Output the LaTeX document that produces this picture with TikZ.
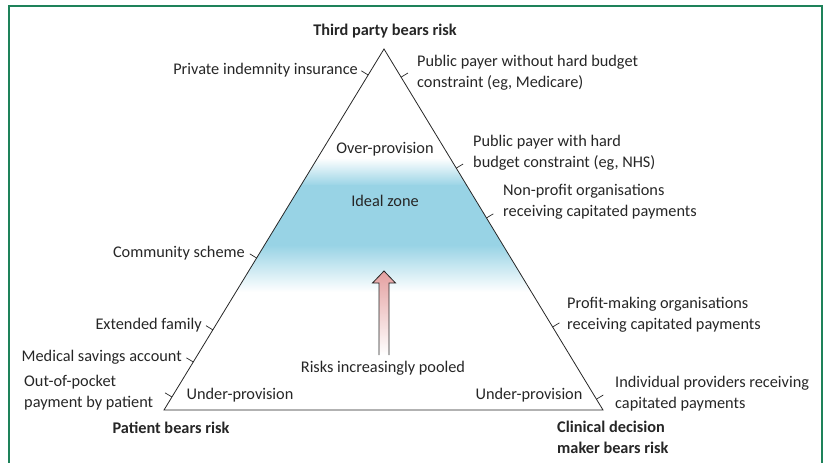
\documentclass[tikz,border=0pt]{standalone}
\usepackage{fontspec}
\setmainfont{Carlito}
\usepackage{tikz}
\usetikzlibrary{calc}

\definecolor{framegreen}{RGB}{30,130,90}
\definecolor{idealblue}{RGB}{152,211,229}
\definecolor{arrowpink}{RGB}{228,160,160}

\begin{document}
\begin{tikzpicture}[x=1pt, y=-1pt,
    every node/.style={inner sep=0pt, text=black!85, font=\fontsize{16.3}{21}\selectfont},
    boldlab/.style={font=\fontsize{16.3}{21}\selectfont\bfseries},
    leftlab/.style={anchor=east},
    rightlab/.style={anchor=west, align=left},
    tick/.style={black!85, line width=0.7pt}]
\useasboundingbox (0,0) rectangle (827,463);
% Frame
\draw[framegreen, line width=1.5pt] (9,463) -- (9,6) -- (822,6) -- (822,463);

% Corners of the triangle
\coordinate (apex) at (384,49);
\coordinate (patient) at (164,410);
\coordinate (clinician) at (603,410);

% Ideal zone band
\begin{scope}
\clip (apex) -- (patient) -- (clinician) -- cycle;
\shade[top color=white, bottom color=idealblue] (150,158) rectangle (620,186);
\fill[idealblue] (150,185) rectangle (620,246);
\shade[top color=idealblue, bottom color=white] (150,245) rectangle (620,292);
\end{scope}

% Triangle
\draw[black!85, line width=0.8pt] (apex) -- (patient) -- (clinician) -- cycle;

% Ticks on the sides
\foreach \f in {0.072,0.579,0.778,0.867,0.964}
    \draw[tick] ($(apex)!\f!(patient)$) -- ($(apex)!\f!(patient)!8pt!-90:(patient)$);
\foreach \f in {0.078,0.330,0.468,0.770,0.970}
    \draw[tick] ($(apex)!\f!(clinician)$) -- ($(apex)!\f!(clinician)!8pt!90:(clinician)$);

% Corner labels
\node[boldlab] (thirdlab) at (385,31) {Third party bears risk};
\node[boldlab] (patientlab) at (171,428) {Patient bears risk};
\node[boldlab, anchor=west, align=left] (clinlab) at (557,437.5) {Clinical decision\\maker bears risk};

% Left side labels
\node[leftlab] (privins) at (358,70) {Private indemnity insurance};
\node[leftlab] (community) at (245,253) {Community scheme};
\node[leftlab] (extfamily) at (202,325) {Extended family};
\node[leftlab] (medsav) at (182,357) {Medical savings account};
\node[rightlab] (outpocket) at (24,393) {Out-of-pocket\\payment by patient};

% Right side labels
\node[rightlab] (pubnohard) at (417,72.5) {Public payer without hard budget\\constraint (eg, Medicare)};
\node[rightlab] (pubhard) at (473,152.5) {Public payer with hard\\budget constraint (eg, NHS)};
\node[rightlab] (nonprofit) at (503,202) {Non-profit organisations\\receiving capitated payments};
\node[rightlab] (profit) at (567,315) {Profit-making organisations\\receiving capitated payments};
\node[rightlab] (individual) at (615,394) {Individual providers receiving\\capitated payments};

% Inside labels
\node (overprov) at (385,149) {Over-provision};
\node (ideal) at (385,201) {Ideal zone};
\node (underleft) at (240,395) {Under-provision};
\node (underright) at (529,395) {Under-provision};
\node (pooled) at (383,368) {Risks increasingly pooled};

% Pooling arrow
\coordinate (arrowtail) at (384,355);
\coordinate (arrowtip) at (384,271);
\shade[top color=arrowpink, bottom color=white, draw=black!85, line width=0.8pt]
    ($(arrowtail)+(-5,0)$) -- ($(arrowtip)+(-5,12)$) -- ($(arrowtip)+(-11.5,12)$) -- (arrowtip)
    -- ($(arrowtip)+(11.5,12)$) -- ($(arrowtip)+(5,12)$) -- ($(arrowtail)+(5,0)$);
\end{tikzpicture}
\end{document}
